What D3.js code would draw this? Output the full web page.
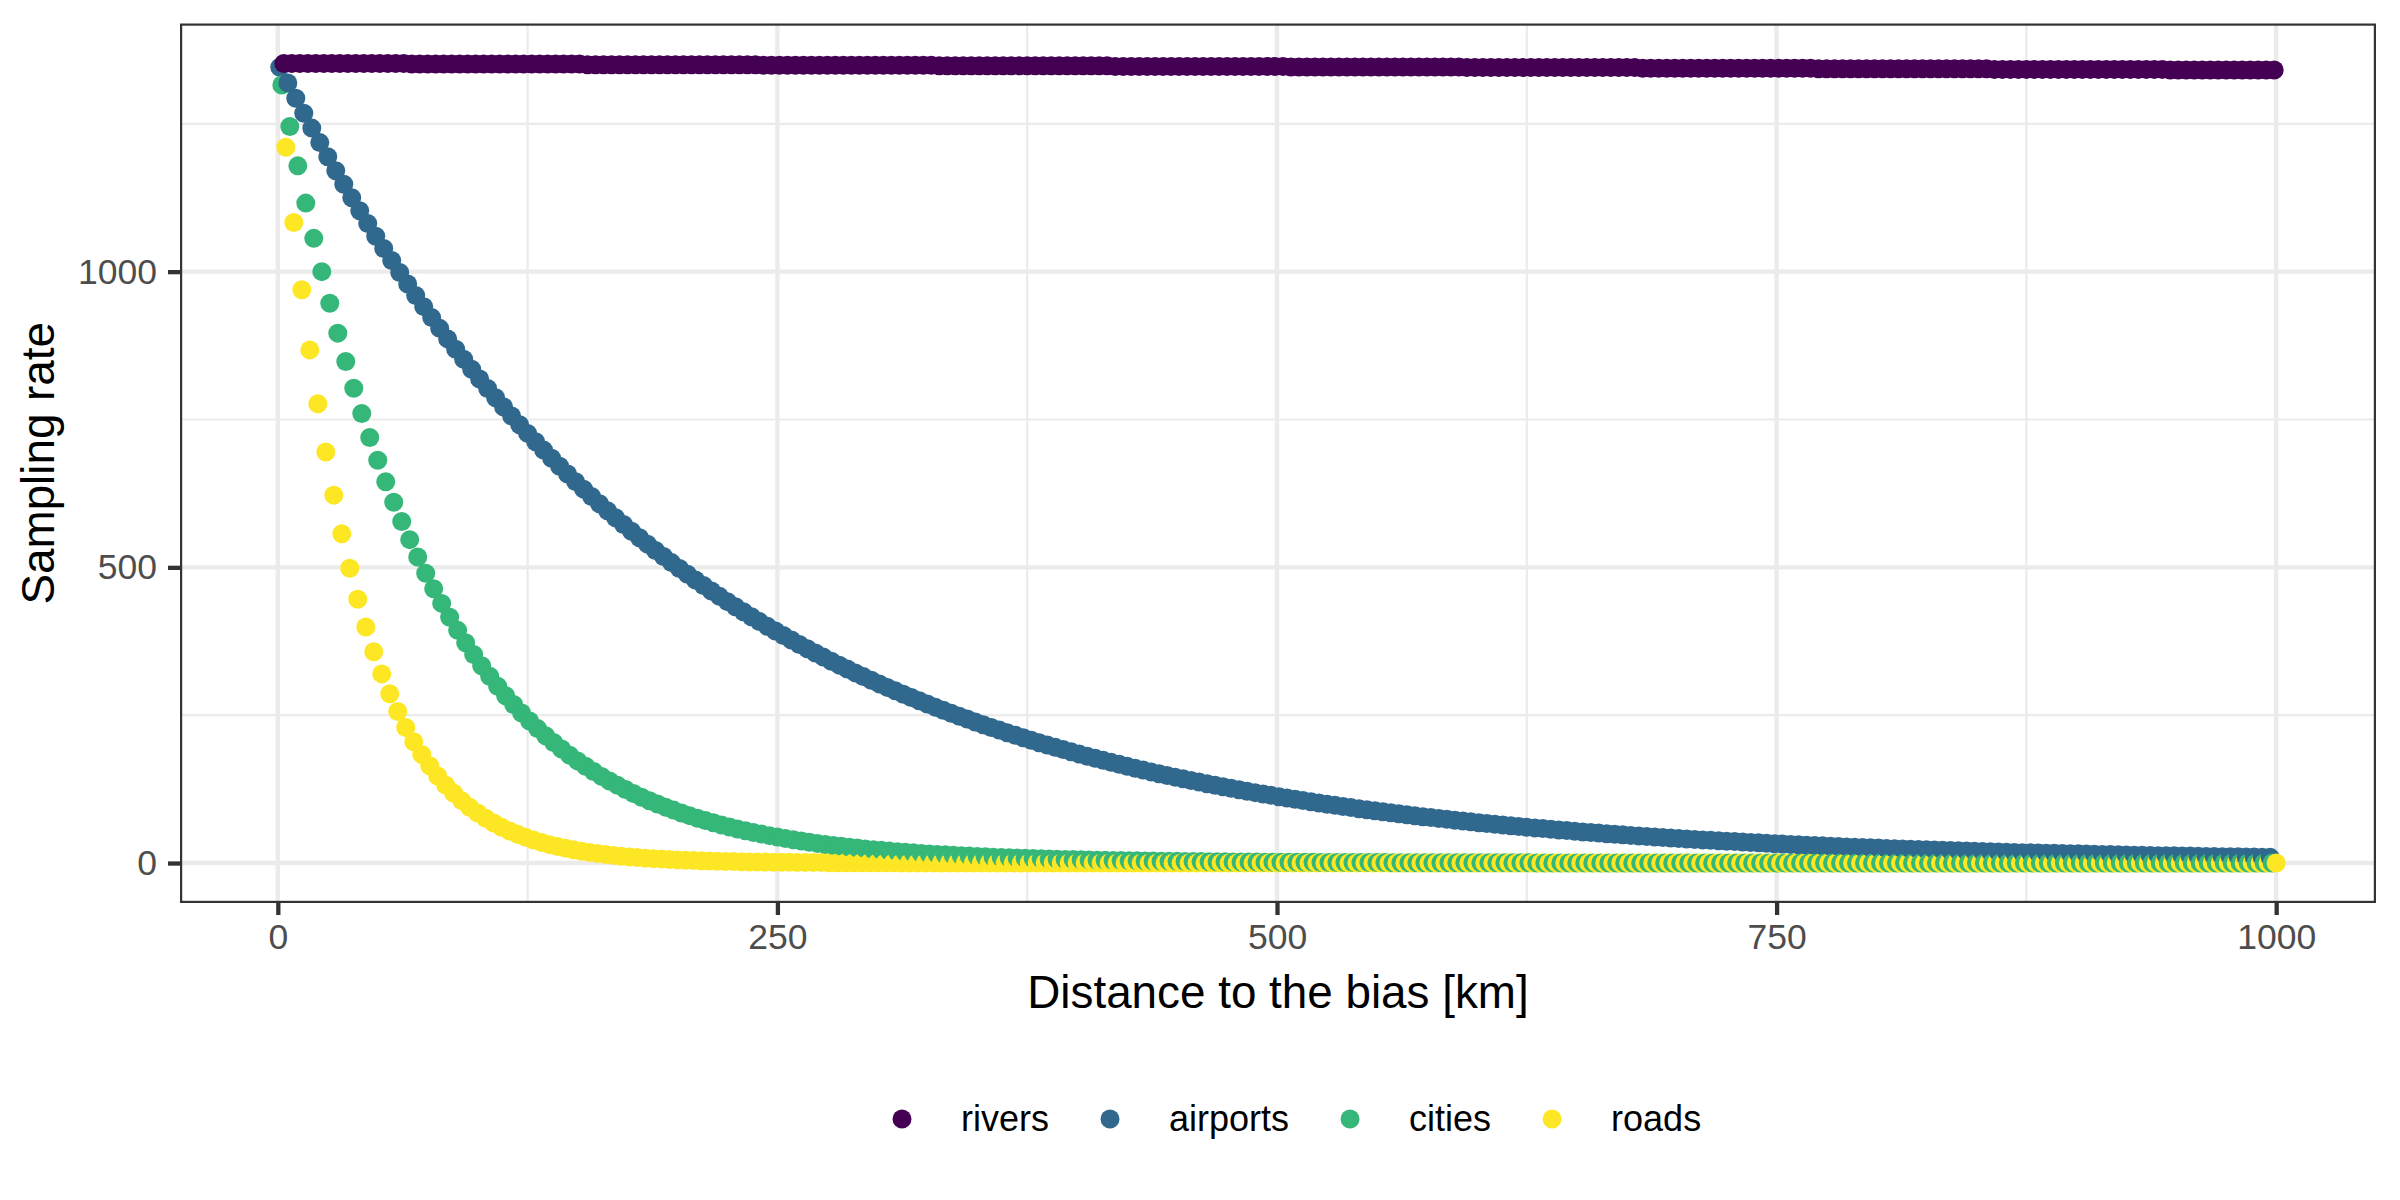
<!DOCTYPE html>
<html><head><meta charset="utf-8">
<script src="https://cdn.jsdelivr.net/npm/d3@7"></script>
<style>body{margin:0;background:#fff}svg{display:block}</style>
</head><body>
<svg id="chart" width="2400" height="1200"></svg>
<script>
// ---------------- data ----------------
const seriesNames  = ["rivers", "airports", "cities", "roads"];
const seriesColors = ["#440154", "#31688E", "#35B779", "#FDE725"];
// distances: each bias is sampled every 4 km, starting at a different km
const firstDistance = [3, 1, 2, 4];
const distanceStep = 4;

const riversRate = [
1352,1352,1352,1352,1352,1352,1352,1352,1352,1352,
1352,1352,1352,1352,1352,1352,1351,1351,1351,1351,
1351,1351,1351,1351,1351,1351,1351,1351,1351,1351,
1351,1351,1351,1351,1351,1351,1351,1351,1350,1350,
1350,1350,1350,1350,1350,1350,1350,1350,1350,1350,
1350,1350,1350,1350,1350,1350,1350,1350,1350,1350,
1349,1349,1349,1349,1349,1349,1349,1349,1349,1349,
1349,1349,1349,1349,1349,1349,1349,1349,1349,1349,
1349,1349,1348,1348,1348,1348,1348,1348,1348,1348,
1348,1348,1348,1348,1348,1348,1348,1348,1348,1348,
1348,1348,1348,1348,1347,1347,1347,1347,1347,1347,
1347,1347,1347,1347,1347,1347,1347,1347,1347,1347,
1347,1347,1347,1347,1347,1347,1346,1346,1346,1346,
1346,1346,1346,1346,1346,1346,1346,1346,1346,1346,
1346,1346,1346,1346,1346,1346,1346,1346,1345,1345,
1345,1345,1345,1345,1345,1345,1345,1345,1345,1345,
1345,1345,1345,1345,1345,1345,1345,1345,1345,1345,
1344,1344,1344,1344,1344,1344,1344,1344,1344,1344,
1344,1344,1344,1344,1344,1344,1344,1344,1344,1344,
1344,1344,1343,1343,1343,1343,1343,1343,1343,1343,
1343,1343,1343,1343,1343,1343,1343,1343,1343,1343,
1343,1343,1343,1343,1342,1342,1342,1342,1342,1342,
1342,1342,1342,1342,1342,1342,1342,1342,1342,1342,
1342,1342,1342,1342,1342,1342,1341,1341,1341,1341,
1341,1341,1341,1341,1341,1341,1341,1341,1341,1341
];

const airportsRate = [
1345.6,1319.1,1293.1,1267.7,1242.7,1218.2,1194.2,1170.7,1147.7,1125.1,
1103.0,1081.3,1060.0,1039.1,1018.7,998.6,979.0,959.7,940.8,922.3,
904.1,886.3,868.9,851.8,835.0,818.6,802.5,786.7,771.2,756.0,
741.1,726.5,712.2,698.2,684.5,671.0,657.8,644.9,632.2,619.8,
607.5,595.5,583.8,572.3,561.0,550.0,539.2,528.6,518.2,508.0,
498.0,488.2,478.6,469.2,460.0,450.9,442.0,433.3,424.8,416.4,
408.2,400.2,392.3,384.6,377.0,369.6,362.3,355.2,348.2,341.3,
334.6,328.0,321.5,315.2,309.0,302.9,297.0,291.1,285.4,279.8,
274.3,268.9,263.6,258.4,253.3,248.3,243.4,238.6,233.9,229.3,
224.8,220.4,216.1,211.8,207.6,203.5,199.5,195.6,191.8,188.0,
184.3,180.7,177.1,173.6,170.2,166.9,163.6,160.4,157.2,154.1,
151.1,148.1,145.2,142.3,139.5,136.8,134.1,131.5,128.9,126.4,
123.8,121.4,119.0,116.7,114.4,112.1,109.9,107.7,105.6,103.5,
101.5,99.5,97.5,95.6,93.7,91.9,90.1,88.3,86.6,84.9,
83.2,81.6,80.0,78.4,76.9,75.4,73.9,72.4,71.0,69.6,
68.2,66.9,65.6,64.3,63.0,61.8,60.6,59.4,58.2,57.1,
55.9,54.8,53.7,52.6,51.6,50.6,49.6,48.6,47.6,46.7,
45.8,44.9,44.0,43.1,42.3,41.5,40.7,39.9,39.1,38.3,
37.6,36.9,36.2,35.5,34.8,34.1,33.4,32.7,32.1,31.5,
30.8,30.2,29.6,29.0,28.4,27.8,27.3,26.8,26.3,25.8,
25.2,24.7,24.2,23.7,23.2,22.7,22.3,21.9,21.5,21.1,
20.7,20.3,19.9,19.5,19.1,18.7,18.3,17.9,17.5,17.2,
17.0,16.7,16.4,16.1,15.8,15.5,15.2,14.9,14.6,14.3,
13.9,13.6,13.3,13.0,12.7,12.5,12.3,12.1,11.9,11.7,
11.4,11.2,11.0,10.8,10.6,10.4,10.2,10.0,9.8,9.6
];

const citiesRate = [
1315.7,1245.4,1178.9,1115.9,1056.3,1000.0,946.6,896.0,848.2,802.9,
760.0,719.4,681.0,644.6,610.2,577.6,546.8,517.6,490.0,463.8,
439.0,415.6,393.4,372.4,352.5,333.7,315.9,299.0,283.0,267.9,
253.6,240.1,227.3,215.2,203.7,192.7,182.4,172.7,163.5,154.8,
146.5,138.7,131.3,124.3,117.7,111.3,105.4,99.8,94.5,89.5,
84.6,80.1,75.8,71.8,68.0,64.3,60.9,57.6,54.5,51.6,
48.9,46.3,43.8,41.5,39.3,37.1,35.1,33.2,31.4,29.7,
28.2,26.7,25.3,23.9,22.6,21.5,20.3,19.2,18.2,17.2,
16.3,15.4,14.6,13.8,13.1,12.4,11.7,11.1,10.5,9.9,
9.4,8.9,8.4,8.0,7.6,7.2,6.8,6.4,6.1,5.8,
5.4,5.1,4.8,4.6,4.4,4.1,3.9,3.7,3.5,3.3,
3.1,3.0,2.8,2.7,2.5,2.4,2.3,2.1,2.0,1.9,
1.8,1.7,1.6,1.5,1.5,1.4,1.3,1.2,1.2,1.1,
1.0,1.0,0.9,0.9,0.8,0.8,0.8,0.7,0.7,0.6,
0.6,0.6,0.5,0.5,0.5,0.5,0.4,0.4,0.4,0.4,
0.3,0.3,0.3,0.3,0.3,0.3,0.3,0.2,0.2,0.2,
0.2,0.2,0.2,0.2,0.2,0.2,0.1,0.1,0.1,0.1,
0.1,0.1,0.1,0.1,0.1,0.1,0.1,0.1,0.1,0.1,
0.1,0.1,0.1,0.1,0.1,0.1,0.1,0,0,0,
0,0,0,0,0,0,0,0,0,0,
0,0,0,0,0,0,0,0,0,0,
0,0,0,0,0,0,0,0,0,0,
0,0,0,0,0,0,0,0,0,0,
0,0,0,0,0,0,0,0,0,0,
0,0,0,0,0,0,0,0,0,0
];

const roadsRate = [
1210.3,1083.2,969.5,867.7,776.6,695.1,622.1,556.8,498.3,446.0,
399.2,357.3,319.8,286.2,256.2,229.3,205.2,183.7,164.4,147.1,
131.7,117.9,105.5,94.4,84.5,75.6,67.7,60.6,54.2,48.5,
43.4,38.9,34.8,31.1,27.9,24.9,22.3,20.0,17.9,16.0,
14.3,12.8,11.5,10.3,9.2,8.2,7.4,6.6,5.9,5.3,
4.7,4.2,3.8,3.4,3.0,2.7,2.4,2.2,1.9,1.7,
1.6,1.4,1.2,1.1,1.0,0.9,0.8,0.7,0.6,0.6,
0.5,0.5,0.4,0.4,0.3,0.3,0.3,0.2,0.2,0.2,
0.2,0.2,0.1,0.1,0.1,0.1,0.1,0.1,0.1,0.1,
0.1,0,0,0,0,0,0,0,0,0,
0,0,0,0,0,0,0,0,0,0,
0,0,0,0,0,0,0,0,0,0,
0,0,0,0,0,0,0,0,0,0,
0,0,0,0,0,0,0,0,0,0,
0,0,0,0,0,0,0,0,0,0,
0,0,0,0,0,0,0,0,0,0,
0,0,0,0,0,0,0,0,0,0,
0,0,0,0,0,0,0,0,0,0,
0,0,0,0,0,0,0,0,0,0,
0,0,0,0,0,0,0,0,0,0,
0,0,0,0,0,0,0,0,0,0,
0,0,0,0,0,0,0,0,0,0,
0,0,0,0,0,0,0,0,0,0,
0,0,0,0,0,0,0,0,0,0,
0,0,0,0,0,0,0,0,0,0
];

const xTicks = [0, 250, 500, 750, 1000];
const xMinorTicks = [125, 375, 625, 875];
const yTicks = [0, 500, 1000];
const yMinorTicks = [250, 750, 1250];
const xTitle = "Distance to the bias [km]";
const yTitle = "Sampling rate";

// ---------------- build rows ----------------
const rateArrays = [riversRate, airportsRate, citiesRate, roadsRate];
const rows = [];
seriesNames.forEach((name, si) => {
  rateArrays[si].forEach((v, i) => {
    rows.push({series: name, color: seriesColors[si], dist: firstDistance[si] + distanceStep * i, rate: v});
  });
});
rows.sort((a, b) => a.dist - b.dist); // plotting order as in the data table

// ---------------- layout ----------------
const FONT = "'Liberation Sans', Arial, Helvetica, sans-serif";
const panel = {left: 180, right: 2376, top: 23.5, bottom: 903};
const svg = d3.select("#chart").style("font-family", FONT);
svg.append("rect").attr("width", 2400).attr("height", 1200).attr("fill", "#fff");

const xExt = d3.extent(rows, d => d.dist);
const yExt = d3.extent(rows, d => d.rate);
const xPad = (xExt[1] - xExt[0]) * 0.05, yPad = (yExt[1] - yExt[0]) * 0.05;
const x = d3.scaleLinear().domain([xExt[0] - xPad, xExt[1] + xPad]).range([panel.left, panel.right]);
const y = d3.scaleLinear().domain([yExt[0] - yPad, yExt[1] + yPad]).range([panel.bottom, panel.top]);

// grid
const grid = svg.append("g");
grid.selectAll(".xminor").data(xMinorTicks).join("line").attr("class", "xminor")
  .attr("x1", d => x(d)).attr("x2", d => x(d)).attr("y1", panel.top).attr("y2", panel.bottom)
  .attr("stroke", "#EBEBEB").attr("stroke-width", 2.2);
grid.selectAll(".yminor").data(yMinorTicks).join("line").attr("class", "yminor")
  .attr("y1", d => y(d)).attr("y2", d => y(d)).attr("x1", panel.left).attr("x2", panel.right)
  .attr("stroke", "#EBEBEB").attr("stroke-width", 2.2);
grid.selectAll(".xmajor").data(xTicks).join("line").attr("class", "xmajor")
  .attr("x1", d => x(d)).attr("x2", d => x(d)).attr("y1", panel.top).attr("y2", panel.bottom)
  .attr("stroke", "#EBEBEB").attr("stroke-width", 4.4);
grid.selectAll(".ymajor").data(yTicks).join("line").attr("class", "ymajor")
  .attr("y1", d => y(d)).attr("y2", d => y(d)).attr("x1", panel.left).attr("x2", panel.right)
  .attr("stroke", "#EBEBEB").attr("stroke-width", 4.4);

// points
svg.append("g").selectAll("circle").data(rows).join("circle")
  .attr("cx", d => x(d.dist)).attr("cy", d => y(d.rate)).attr("r", 9.5)
  .attr("fill", d => d.color);

// panel border
svg.append("rect")
  .attr("x", panel.left + 1.1).attr("y", panel.top + 1.1)
  .attr("width", panel.right - panel.left - 2.2).attr("height", panel.bottom - panel.top - 2.2)
  .attr("fill", "none").attr("stroke", "#333333").attr("stroke-width", 2.2);

// axes
const tickFont = 35.5;
const xAxis = svg.append("g").attr("transform", `translate(0,${panel.bottom})`)
  .call(d3.axisBottom(x).tickValues(xTicks).tickSize(12).tickPadding(9).tickFormat(d3.format("d")));
const yAxis = svg.append("g").attr("transform", `translate(${panel.left},0)`)
  .call(d3.axisLeft(y).tickValues(yTicks).tickSize(12).tickPadding(11).tickFormat(d3.format("d")));
[xAxis, yAxis].forEach(a => {
  a.select(".domain").remove();
  a.selectAll(".tick line").attr("stroke", "#333333").attr("stroke-width", 4.3);
  a.selectAll(".tick text").attr("fill", "#4D4D4D").style("font-size", tickFont + "px").style("font-family", FONT);
});

// titles
svg.append("text").attr("x", (panel.left + panel.right) / 2).attr("y", 1008)
  .attr("text-anchor", "middle").style("font-size", "45.8px").attr("fill", "#000").text(xTitle);
svg.append("text").attr("transform", `translate(54,${(panel.top + panel.bottom) / 2}) rotate(-90)`)
  .attr("text-anchor", "middle").style("font-size", "45.8px").attr("fill", "#000").text(yTitle);

// legend
const legend = svg.append("g");
const legY = 1119;
let cx = 902;
seriesNames.forEach((name, i) => {
  legend.append("circle").attr("cx", cx).attr("cy", legY).attr("r", 9.5).attr("fill", seriesColors[i]);
  const t = legend.append("text").attr("x", cx + 59).attr("y", legY + 12)
    .style("font-size", "36px").attr("fill", "#000").text(name);
  const w = t.node().getComputedTextLength();
  cx = cx + 59 + w + 61;
});
</script>
</body></html>
